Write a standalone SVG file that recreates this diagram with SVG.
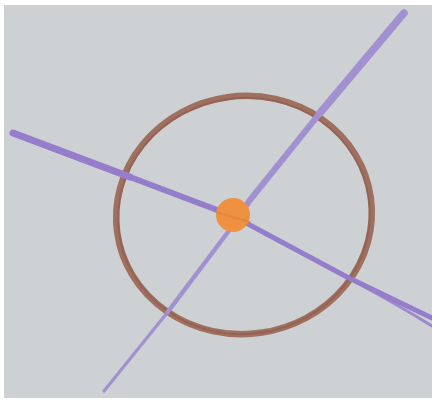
<svg xmlns="http://www.w3.org/2000/svg" width="432" height="404" viewBox="0 0 432 404">
  <style>
    .pen { fill: none; stroke-linecap: round; stroke-linejoin: round; }
    .p1 { stroke: #957dcb; }
    .p2 { stroke: #a291d0; }
  </style>
  <rect x="0" y="0" width="432" height="404" fill="#ffffff"/>
  <rect x="4" y="5" width="428" height="393" fill="#cdd1d3"/>
  <g id="circle">
    <ellipse cx="244" cy="215" rx="128" ry="119" transform="rotate(-8 244 215)" class="pen" stroke="#9a6553" stroke-width="6.5" opacity="0.9"/>
    <ellipse cx="244" cy="216" rx="126" ry="118" transform="rotate(-8 244 216)" class="pen" stroke="#8a5646" stroke-width="2" opacity="0.5"/>
  </g>
  <g id="line-2">
    <path d="M404,13 L320,113" class="pen p2" stroke-width="7.5"/>
    <path d="M320,113 L250,200 L236,220" class="pen p2" stroke-width="6"/>
    <path d="M231,228 L167,313" class="pen p2" stroke-width="4.5"/>
    <path d="M167,313 L104,391" class="pen p2" stroke-width="3.2"/>
  </g>
  <g id="line-1">
    <path d="M13,133 L130,177" class="pen p1" stroke-width="7"/>
    <path d="M130,177 L233,216" class="pen p1" stroke-width="6"/>
    <path d="M233,216 L347,277 Q395,300 432,318" class="pen p1" stroke-width="5"/>
    <path d="M333,270 Q390,300 432,326" class="pen p1" stroke-width="3" opacity="0.85"/>
  </g>
  <g id="dot">
    <circle cx="233" cy="215" r="17" fill="#ef9140"/>
    <path d="M216,212 L250,222" class="pen" stroke="#d8803c" stroke-width="2" opacity="0.6"/>
  </g>
</svg>
